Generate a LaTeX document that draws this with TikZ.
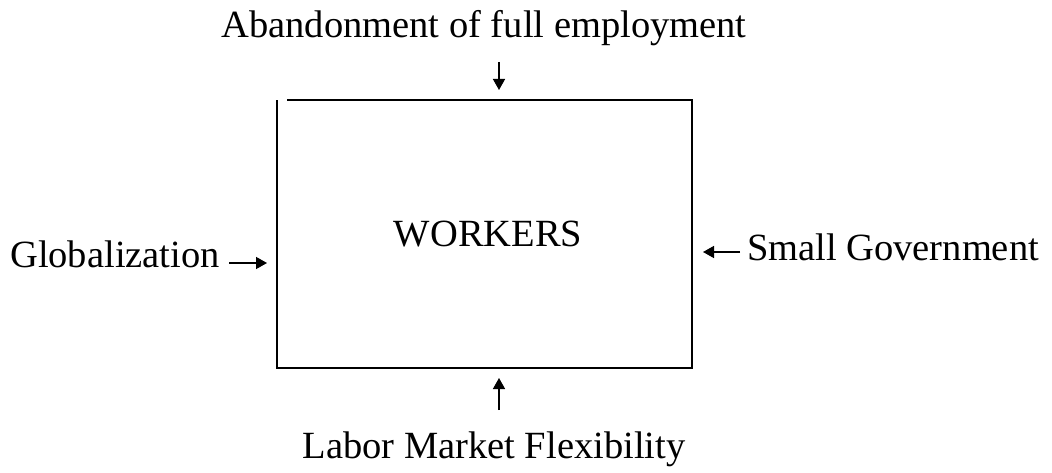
\documentclass[tikz,border=0pt]{standalone}
\usepackage{fontspec}
\setmainfont{Liberation Serif}
\usetikzlibrary{arrows.meta}
\begin{document}
\begin{tikzpicture}[x=1pt,y=-1pt,
  lbl/.style={font=\fontsize{38.5}{42}\selectfont, inner sep=0pt, anchor=base},
  edge/.style={line width=1.5pt},
  arr/.style={line width=1.5pt, -{Triangle[length=11pt,width=12pt]}}]
\useasboundingbox (0,0) rectangle (1052,473);
% box
\coordinate (tl) at (277,100);
\coordinate (ts) at (287,100);
\coordinate (tr) at (692,100);
\coordinate (br) at (692,368);
\coordinate (bl) at (277,368);
\draw[edge] (ts) -- (tr) -- (br) -- (bl) -- (tl);
\node[lbl] (w) at (488,247) {WORKERS};
\node[lbl] (a) at (484,38) {Abandonment of full employment};
\node[lbl] (g) at (115,267) {Globalization};
\node[lbl] (s) at (893,260) {Small Government};
\node[lbl] (l) at (494,458) {Labor Market Flexibility};
\coordinate (a1) at (499,62); \coordinate (a2) at (499,90);
\coordinate (g1) at (229,263); \coordinate (g2) at (267,263);
\coordinate (s1) at (740,252); \coordinate (s2) at (703,252);
\coordinate (l1) at (499,410); \coordinate (l2) at (499,378);
\draw[arr] (a1) -- (a2);
\draw[arr] (g1) -- (g2);
\draw[arr] (s1) -- (s2);
\draw[arr] (l1) -- (l2);
\end{tikzpicture}
\end{document}
